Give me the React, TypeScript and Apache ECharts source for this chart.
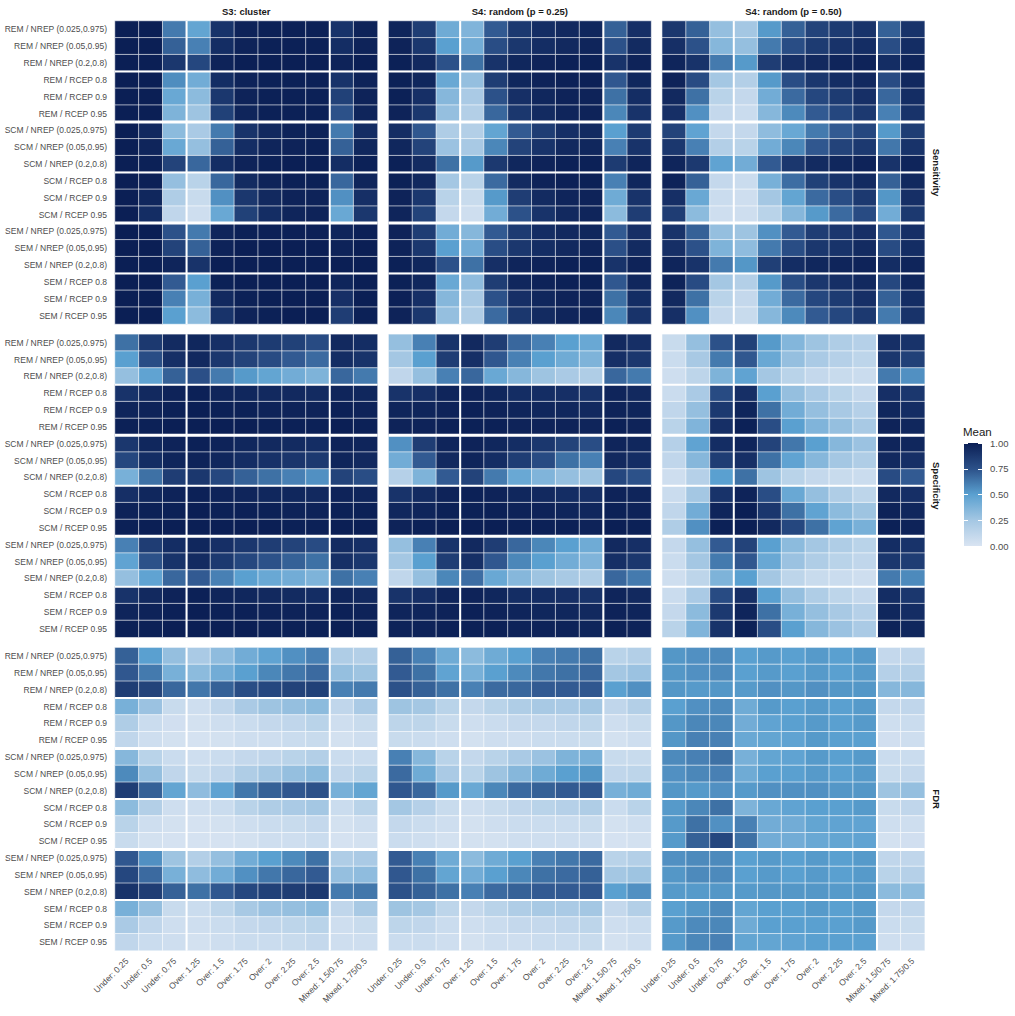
import React, { useEffect, useRef } from 'react';
import * as echarts from 'echarts';

const rowLabels = [
  'REM / NREP (0.025,0.975)', 'REM / NREP (0.05,0.95)', 'REM / NREP (0.2,0.8)',
  'REM / RCEP 0.8', 'REM / RCEP 0.9', 'REM / RCEP 0.95',
  'SCM / NREP (0.025,0.975)', 'SCM / NREP (0.05,0.95)', 'SCM / NREP (0.2,0.8)',
  'SCM / RCEP 0.8', 'SCM / RCEP 0.9', 'SCM / RCEP 0.95',
  'SEM / NREP (0.025,0.975)', 'SEM / NREP (0.05,0.95)', 'SEM / NREP (0.2,0.8)',
  'SEM / RCEP 0.8', 'SEM / RCEP 0.9', 'SEM / RCEP 0.95',
];
const colLabels = [
  'Under: 0.25', 'Under: 0.5', 'Under: 0.75', 'Over: 1.25', 'Over: 1.5', 'Over: 1.75',
  'Over: 2', 'Over: 2.25', 'Over: 2.5', 'Mixed: 1.5/0.75', 'Mixed: 1.75/0.5',
];
const panelTitles = ['S3: cluster', 'S4: random (p = 0.25)', 'S4: random (p = 0.50)'];
const metricLabels = ['Sensitivity', 'Specificity', 'FDR'];
const legendTicks = [0, 0.25, 0.5, 0.75, 1];
const colourStops = ['#d9e4f2', '#a4c7e3', '#5aa0d0', '#2c5189', '#0b1f55'];
// boundaries: [orientation (0 = vertical, 1 = horizontal), index after which the line sits, width]
const separators = [[0, 2, 2], [0, 8, 2], [1, 2, 2], [1, 5, 3], [1, 8, 2], [1, 11, 3], [1, 14, 2]];

const sensS3 = [
  [1, 1, 0.62, 0.47, 0.9, 0.98, 0.99, 0.99, 0.99, 0.9, 0.98],
  [1, 1, 0.7, 0.6, 0.93, 0.98, 0.99, 0.99, 0.99, 0.93, 0.98],
  [1, 1, 0.88, 0.8, 0.98, 1, 1, 1, 1, 0.98, 1],
  [1, 1, 0.56, 0.42, 0.93, 0.98, 0.99, 0.99, 0.99, 0.9, 0.98],
  [1, 1, 0.45, 0.33, 0.88, 0.98, 0.99, 0.99, 0.99, 0.83, 0.98],
  [1, 1, 0.38, 0.27, 0.83, 0.97, 0.99, 0.99, 0.99, 0.75, 0.97],
  [1, 0.95, 0.33, 0.22, 0.62, 0.9, 0.95, 0.98, 0.98, 0.62, 0.93],
  [1, 0.97, 0.45, 0.3, 0.7, 0.93, 0.97, 0.98, 0.99, 0.7, 0.96],
  [1, 0.99, 0.82, 0.68, 0.93, 0.98, 0.99, 1, 1, 0.93, 0.99],
  [1, 0.99, 0.3, 0.15, 0.68, 0.94, 0.98, 0.99, 0.99, 0.68, 0.97],
  [1, 0.96, 0.2, 0.08, 0.55, 0.88, 0.95, 0.98, 0.98, 0.55, 0.92],
  [1, 0.93, 0.12, 0.05, 0.45, 0.83, 0.93, 0.97, 0.98, 0.45, 0.88],
  [1, 1, 0.75, 0.62, 0.97, 0.99, 0.99, 0.99, 0.99, 0.97, 0.99],
  [1, 1, 0.82, 0.7, 0.98, 1, 1, 1, 1, 0.98, 1],
  [1, 1, 0.97, 0.9, 1, 1, 1, 1, 1, 1, 1],
  [1, 1, 0.72, 0.5, 0.99, 1, 1, 1, 1, 0.97, 1],
  [1, 1, 0.6, 0.4, 0.95, 0.99, 1, 1, 1, 0.92, 1],
  [1, 1, 0.5, 0.33, 0.9, 0.98, 0.99, 1, 1, 0.85, 0.99],
];
const sensS4a = [
  [0.97, 0.85, 0.43, 0.37, 0.72, 0.87, 0.93, 0.95, 0.96, 0.7, 0.92],
  [0.98, 0.88, 0.5, 0.42, 0.77, 0.88, 0.93, 0.95, 0.97, 0.75, 0.94],
  [0.99, 0.95, 0.75, 0.65, 0.9, 0.96, 0.98, 0.99, 0.99, 0.9, 0.98],
  [0.99, 0.96, 0.45, 0.3, 0.85, 0.96, 0.98, 0.99, 0.99, 0.73, 0.96],
  [0.99, 0.92, 0.35, 0.22, 0.75, 0.92, 0.96, 0.98, 0.98, 0.65, 0.93],
  [0.98, 0.88, 0.3, 0.18, 0.68, 0.88, 0.94, 0.97, 0.98, 0.58, 0.9],
  [0.93, 0.73, 0.2, 0.18, 0.47, 0.72, 0.85, 0.92, 0.94, 0.5, 0.86],
  [0.96, 0.82, 0.28, 0.23, 0.58, 0.82, 0.9, 0.95, 0.96, 0.6, 0.9],
  [0.99, 0.94, 0.65, 0.52, 0.87, 0.96, 0.98, 0.99, 0.99, 0.86, 0.97],
  [0.99, 0.95, 0.25, 0.15, 0.67, 0.94, 0.98, 0.99, 0.99, 0.6, 0.96],
  [0.98, 0.88, 0.15, 0.08, 0.52, 0.85, 0.94, 0.97, 0.98, 0.43, 0.9],
  [0.97, 0.82, 0.1, 0.05, 0.42, 0.75, 0.9, 0.95, 0.97, 0.33, 0.85],
  [0.98, 0.85, 0.42, 0.35, 0.72, 0.86, 0.93, 0.95, 0.96, 0.72, 0.92],
  [0.98, 0.88, 0.5, 0.42, 0.77, 0.88, 0.93, 0.95, 0.97, 0.76, 0.94],
  [0.99, 0.96, 0.75, 0.65, 0.92, 0.97, 0.98, 0.99, 0.99, 0.9, 0.98],
  [0.99, 0.96, 0.45, 0.32, 0.85, 0.96, 0.98, 0.99, 0.99, 0.73, 0.96],
  [0.99, 0.92, 0.35, 0.23, 0.75, 0.92, 0.96, 0.98, 0.98, 0.65, 0.93],
  [0.98, 0.88, 0.3, 0.2, 0.67, 0.88, 0.94, 0.97, 0.98, 0.58, 0.9],
];
const sensS4b = [
  [0.88, 0.7, 0.3, 0.25, 0.52, 0.7, 0.82, 0.86, 0.9, 0.7, 0.9],
  [0.92, 0.75, 0.35, 0.3, 0.62, 0.77, 0.86, 0.9, 0.93, 0.77, 0.93],
  [0.97, 0.9, 0.62, 0.52, 0.85, 0.92, 0.95, 0.97, 0.98, 0.93, 0.97],
  [0.98, 0.78, 0.25, 0.18, 0.52, 0.77, 0.88, 0.93, 0.95, 0.78, 0.95],
  [0.95, 0.65, 0.15, 0.1, 0.42, 0.67, 0.8, 0.86, 0.92, 0.68, 0.93],
  [0.92, 0.55, 0.1, 0.07, 0.35, 0.57, 0.72, 0.8, 0.87, 0.6, 0.9],
  [0.82, 0.48, 0.1, 0.1, 0.32, 0.45, 0.62, 0.72, 0.8, 0.52, 0.85],
  [0.88, 0.6, 0.18, 0.15, 0.42, 0.58, 0.73, 0.82, 0.87, 0.63, 0.9],
  [0.97, 0.87, 0.48, 0.42, 0.72, 0.88, 0.94, 0.96, 0.98, 0.9, 0.97],
  [0.98, 0.7, 0.1, 0.07, 0.4, 0.66, 0.83, 0.9, 0.94, 0.7, 0.95],
  [0.92, 0.45, 0.07, 0.05, 0.25, 0.47, 0.67, 0.77, 0.87, 0.53, 0.92],
  [0.85, 0.33, 0.05, 0.05, 0.15, 0.35, 0.52, 0.67, 0.78, 0.42, 0.87],
  [0.9, 0.7, 0.3, 0.27, 0.55, 0.72, 0.85, 0.88, 0.92, 0.73, 0.92],
  [0.92, 0.75, 0.38, 0.32, 0.62, 0.77, 0.88, 0.9, 0.94, 0.78, 0.93],
  [0.97, 0.9, 0.62, 0.53, 0.84, 0.93, 0.96, 0.97, 0.98, 0.93, 0.97],
  [0.98, 0.78, 0.25, 0.18, 0.52, 0.77, 0.88, 0.92, 0.95, 0.8, 0.96],
  [0.95, 0.65, 0.15, 0.1, 0.42, 0.67, 0.8, 0.86, 0.92, 0.7, 0.93],
  [0.92, 0.55, 0.1, 0.08, 0.35, 0.57, 0.72, 0.8, 0.87, 0.62, 0.9],
];
const specS3 = [
  [0.65, 0.87, 0.94, 0.96, 0.92, 0.88, 0.86, 0.83, 0.78, 0.95, 0.93],
  [0.5, 0.77, 0.92, 0.95, 0.88, 0.82, 0.78, 0.72, 0.67, 0.93, 0.9],
  [0.3, 0.48, 0.7, 0.76, 0.62, 0.52, 0.47, 0.42, 0.38, 0.68, 0.62],
  [0.9, 0.95, 0.98, 0.99, 0.97, 0.96, 0.95, 0.95, 0.94, 0.97, 0.96],
  [0.97, 0.98, 0.99, 1, 0.99, 0.99, 0.98, 0.98, 0.98, 0.99, 0.98],
  [0.99, 0.99, 1, 1, 1, 1, 0.99, 0.99, 0.99, 1, 0.99],
  [0.88, 0.96, 0.98, 0.99, 0.98, 0.96, 0.95, 0.94, 0.93, 0.98, 0.97],
  [0.8, 0.93, 0.97, 0.98, 0.96, 0.93, 0.91, 0.89, 0.87, 0.97, 0.95],
  [0.4, 0.65, 0.85, 0.88, 0.8, 0.7, 0.65, 0.6, 0.55, 0.82, 0.77],
  [0.92, 0.96, 0.98, 0.99, 0.98, 0.97, 0.96, 0.96, 0.95, 0.98, 0.97],
  [0.98, 0.99, 0.99, 1, 0.99, 0.99, 0.99, 0.98, 0.98, 0.99, 0.99],
  [0.99, 1, 1, 1, 1, 1, 1, 0.99, 0.99, 1, 1],
  [0.6, 0.85, 0.93, 0.96, 0.92, 0.88, 0.85, 0.82, 0.78, 0.94, 0.92],
  [0.48, 0.75, 0.9, 0.94, 0.87, 0.8, 0.75, 0.7, 0.65, 0.92, 0.88],
  [0.3, 0.48, 0.68, 0.72, 0.6, 0.5, 0.45, 0.42, 0.38, 0.65, 0.6],
  [0.9, 0.95, 0.98, 0.99, 0.97, 0.96, 0.95, 0.94, 0.93, 0.97, 0.95],
  [0.97, 0.98, 0.99, 1, 0.99, 0.99, 0.98, 0.98, 0.98, 0.99, 0.98],
  [0.99, 0.99, 1, 1, 1, 1, 0.99, 0.99, 0.99, 1, 0.99],
];
const specS4a = [
  [0.3, 0.6, 0.9, 0.95, 0.85, 0.68, 0.6, 0.5, 0.45, 0.95, 0.92],
  [0.25, 0.5, 0.85, 0.92, 0.73, 0.6, 0.5, 0.43, 0.38, 0.92, 0.88],
  [0.12, 0.3, 0.6, 0.68, 0.45, 0.35, 0.27, 0.22, 0.2, 0.68, 0.62],
  [0.9, 0.92, 0.97, 0.98, 0.96, 0.93, 0.93, 0.92, 0.9, 0.97, 0.95],
  [0.97, 0.97, 0.98, 0.99, 0.98, 0.97, 0.96, 0.96, 0.95, 0.98, 0.97],
  [0.98, 0.98, 0.99, 0.99, 0.99, 0.98, 0.98, 0.98, 0.97, 0.99, 0.98],
  [0.55, 0.85, 0.97, 0.98, 0.96, 0.93, 0.88, 0.82, 0.77, 0.97, 0.96],
  [0.42, 0.72, 0.95, 0.97, 0.93, 0.85, 0.78, 0.65, 0.6, 0.95, 0.93],
  [0.17, 0.38, 0.72, 0.82, 0.62, 0.45, 0.37, 0.3, 0.27, 0.8, 0.75],
  [0.9, 0.94, 0.98, 0.99, 0.98, 0.96, 0.95, 0.93, 0.92, 0.98, 0.97],
  [0.96, 0.97, 0.99, 0.99, 0.99, 0.98, 0.98, 0.97, 0.96, 0.99, 0.98],
  [0.98, 0.99, 1, 1, 1, 0.99, 0.99, 0.99, 0.98, 1, 0.99],
  [0.3, 0.6, 0.9, 0.95, 0.85, 0.68, 0.58, 0.5, 0.43, 0.95, 0.92],
  [0.25, 0.5, 0.85, 0.92, 0.73, 0.58, 0.5, 0.42, 0.37, 0.92, 0.88],
  [0.12, 0.3, 0.58, 0.66, 0.45, 0.35, 0.27, 0.23, 0.2, 0.68, 0.62],
  [0.9, 0.92, 0.97, 0.98, 0.96, 0.93, 0.93, 0.92, 0.9, 0.97, 0.95],
  [0.97, 0.97, 0.98, 0.99, 0.98, 0.97, 0.96, 0.96, 0.95, 0.98, 0.97],
  [0.98, 0.98, 0.99, 0.99, 0.99, 0.98, 0.98, 0.98, 0.97, 0.99, 0.98],
];
const specS4b = [
  [0.08, 0.3, 0.75, 0.83, 0.52, 0.36, 0.27, 0.2, 0.17, 0.92, 0.9],
  [0.07, 0.23, 0.62, 0.73, 0.45, 0.3, 0.22, 0.17, 0.13, 0.88, 0.83],
  [0.05, 0.13, 0.38, 0.48, 0.25, 0.15, 0.1, 0.08, 0.07, 0.62, 0.55],
  [0.07, 0.22, 0.78, 0.92, 0.5, 0.3, 0.22, 0.15, 0.1, 0.92, 0.88],
  [0.12, 0.3, 0.87, 0.97, 0.65, 0.42, 0.3, 0.23, 0.17, 0.96, 0.93],
  [0.15, 0.37, 0.92, 0.99, 0.77, 0.5, 0.37, 0.3, 0.23, 0.98, 0.96],
  [0.17, 0.48, 0.93, 0.97, 0.82, 0.63, 0.5, 0.35, 0.28, 0.97, 0.96],
  [0.12, 0.35, 0.85, 0.92, 0.65, 0.48, 0.35, 0.25, 0.2, 0.95, 0.92],
  [0.05, 0.17, 0.5, 0.65, 0.27, 0.15, 0.1, 0.08, 0.07, 0.78, 0.72],
  [0.07, 0.25, 0.9, 0.98, 0.77, 0.45, 0.3, 0.2, 0.13, 0.95, 0.92],
  [0.12, 0.42, 0.97, 1, 0.88, 0.65, 0.48, 0.33, 0.27, 0.98, 0.96],
  [0.2, 0.55, 0.99, 1, 0.95, 0.8, 0.65, 0.48, 0.4, 0.99, 0.98],
  [0.1, 0.3, 0.72, 0.82, 0.5, 0.33, 0.25, 0.2, 0.15, 0.93, 0.9],
  [0.07, 0.25, 0.62, 0.73, 0.45, 0.28, 0.2, 0.15, 0.12, 0.88, 0.85],
  [0.05, 0.13, 0.38, 0.5, 0.25, 0.13, 0.08, 0.07, 0.05, 0.62, 0.57],
  [0.07, 0.22, 0.78, 0.92, 0.5, 0.3, 0.2, 0.13, 0.1, 0.93, 0.88],
  [0.1, 0.33, 0.87, 0.97, 0.65, 0.4, 0.3, 0.23, 0.17, 0.96, 0.93],
  [0.15, 0.37, 0.9, 0.99, 0.77, 0.5, 0.35, 0.28, 0.22, 0.98, 0.96],
];
const fdrS3 = [
  [0.7, 0.5, 0.3, 0.22, 0.32, 0.42, 0.48, 0.55, 0.6, 0.2, 0.18],
  [0.73, 0.62, 0.4, 0.33, 0.42, 0.5, 0.58, 0.63, 0.67, 0.3, 0.27],
  [0.85, 0.82, 0.68, 0.63, 0.7, 0.77, 0.8, 0.82, 0.83, 0.6, 0.62],
  [0.4, 0.28, 0.08, 0.05, 0.12, 0.22, 0.27, 0.3, 0.33, 0.12, 0.22],
  [0.2, 0.07, 0.04, 0.03, 0.05, 0.07, 0.1, 0.12, 0.15, 0.05, 0.08],
  [0.12, 0.05, 0.03, 0.02, 0.03, 0.05, 0.05, 0.07, 0.08, 0.03, 0.05],
  [0.35, 0.15, 0.07, 0.05, 0.07, 0.1, 0.12, 0.15, 0.18, 0.07, 0.07],
  [0.57, 0.3, 0.12, 0.08, 0.12, 0.2, 0.25, 0.3, 0.33, 0.12, 0.15],
  [0.85, 0.7, 0.47, 0.32, 0.48, 0.63, 0.7, 0.73, 0.75, 0.4, 0.47],
  [0.33, 0.18, 0.05, 0.05, 0.07, 0.15, 0.2, 0.22, 0.25, 0.07, 0.15],
  [0.15, 0.05, 0.03, 0.02, 0.03, 0.05, 0.07, 0.08, 0.1, 0.03, 0.05],
  [0.08, 0.03, 0.02, 0.02, 0.02, 0.03, 0.05, 0.05, 0.07, 0.02, 0.03],
  [0.73, 0.55, 0.27, 0.18, 0.3, 0.42, 0.5, 0.57, 0.65, 0.2, 0.22],
  [0.8, 0.67, 0.4, 0.32, 0.42, 0.55, 0.63, 0.68, 0.72, 0.3, 0.32],
  [0.9, 0.85, 0.7, 0.65, 0.73, 0.8, 0.83, 0.85, 0.87, 0.62, 0.63],
  [0.4, 0.3, 0.08, 0.07, 0.13, 0.23, 0.28, 0.3, 0.33, 0.12, 0.23],
  [0.22, 0.12, 0.05, 0.05, 0.07, 0.1, 0.12, 0.13, 0.15, 0.05, 0.08],
  [0.12, 0.07, 0.05, 0.03, 0.05, 0.07, 0.07, 0.08, 0.1, 0.05, 0.05],
];
const fdrS4a = [
  [0.7, 0.6, 0.43, 0.33, 0.43, 0.5, 0.6, 0.62, 0.65, 0.15, 0.18],
  [0.72, 0.65, 0.48, 0.4, 0.5, 0.57, 0.63, 0.65, 0.68, 0.25, 0.28],
  [0.75, 0.7, 0.65, 0.6, 0.67, 0.68, 0.72, 0.72, 0.73, 0.5, 0.55],
  [0.27, 0.25, 0.15, 0.1, 0.15, 0.2, 0.23, 0.22, 0.25, 0.12, 0.18],
  [0.13, 0.13, 0.08, 0.05, 0.07, 0.1, 0.1, 0.12, 0.13, 0.05, 0.08],
  [0.08, 0.07, 0.05, 0.03, 0.05, 0.05, 0.07, 0.07, 0.08, 0.03, 0.05],
  [0.6, 0.35, 0.15, 0.1, 0.15, 0.22, 0.28, 0.38, 0.4, 0.08, 0.08],
  [0.67, 0.43, 0.22, 0.15, 0.27, 0.35, 0.43, 0.5, 0.53, 0.12, 0.13],
  [0.73, 0.68, 0.52, 0.45, 0.58, 0.67, 0.7, 0.72, 0.73, 0.4, 0.43],
  [0.25, 0.17, 0.08, 0.05, 0.08, 0.12, 0.15, 0.17, 0.2, 0.07, 0.15],
  [0.1, 0.07, 0.05, 0.03, 0.05, 0.07, 0.07, 0.07, 0.08, 0.03, 0.05],
  [0.07, 0.05, 0.03, 0.03, 0.03, 0.05, 0.05, 0.05, 0.05, 0.02, 0.03],
  [0.72, 0.6, 0.43, 0.33, 0.43, 0.5, 0.6, 0.63, 0.67, 0.15, 0.18],
  [0.73, 0.65, 0.47, 0.42, 0.5, 0.58, 0.65, 0.67, 0.7, 0.25, 0.27],
  [0.75, 0.7, 0.65, 0.6, 0.67, 0.7, 0.72, 0.72, 0.73, 0.5, 0.55],
  [0.27, 0.25, 0.13, 0.1, 0.15, 0.2, 0.23, 0.22, 0.25, 0.1, 0.18],
  [0.13, 0.12, 0.07, 0.05, 0.07, 0.1, 0.1, 0.12, 0.13, 0.05, 0.07],
  [0.07, 0.07, 0.05, 0.03, 0.05, 0.05, 0.07, 0.07, 0.08, 0.03, 0.05],
];
const fdrS4b = [
  [0.53, 0.55, 0.57, 0.5, 0.52, 0.5, 0.52, 0.5, 0.52, 0.1, 0.12],
  [0.53, 0.55, 0.57, 0.5, 0.52, 0.5, 0.52, 0.5, 0.52, 0.17, 0.18],
  [0.53, 0.52, 0.53, 0.52, 0.55, 0.53, 0.55, 0.53, 0.53, 0.35, 0.35],
  [0.5, 0.55, 0.57, 0.43, 0.52, 0.5, 0.52, 0.5, 0.52, 0.1, 0.12],
  [0.53, 0.58, 0.58, 0.42, 0.48, 0.5, 0.52, 0.5, 0.52, 0.05, 0.07],
  [0.53, 0.6, 0.6, 0.45, 0.47, 0.48, 0.52, 0.5, 0.5, 0.04, 0.05],
  [0.57, 0.6, 0.65, 0.4, 0.47, 0.48, 0.52, 0.5, 0.52, 0.07, 0.07],
  [0.55, 0.58, 0.6, 0.43, 0.5, 0.5, 0.52, 0.5, 0.52, 0.08, 0.1],
  [0.53, 0.52, 0.55, 0.52, 0.55, 0.55, 0.55, 0.53, 0.53, 0.27, 0.3],
  [0.52, 0.58, 0.65, 0.38, 0.45, 0.48, 0.5, 0.5, 0.52, 0.08, 0.12],
  [0.52, 0.65, 0.55, 0.6, 0.42, 0.42, 0.47, 0.48, 0.48, 0.05, 0.05],
  [0.52, 0.7, 0.8, 0.65, 0.42, 0.42, 0.45, 0.47, 0.48, 0.03, 0.04],
  [0.55, 0.57, 0.57, 0.5, 0.52, 0.5, 0.52, 0.5, 0.52, 0.12, 0.12],
  [0.53, 0.57, 0.57, 0.5, 0.52, 0.5, 0.52, 0.5, 0.52, 0.15, 0.17],
  [0.52, 0.52, 0.53, 0.52, 0.53, 0.53, 0.53, 0.52, 0.53, 0.33, 0.33],
  [0.5, 0.53, 0.57, 0.47, 0.5, 0.5, 0.52, 0.5, 0.52, 0.1, 0.12],
  [0.52, 0.57, 0.58, 0.43, 0.5, 0.5, 0.5, 0.5, 0.52, 0.07, 0.08],
  [0.52, 0.58, 0.6, 0.47, 0.47, 0.48, 0.5, 0.5, 0.5, 0.05, 0.05],
];

const panelData = [
  [sensS3, sensS4a, sensS4b],
  [specS3, specS4a, specS4b],
  [fdrS3, fdrS4a, fdrS4b],
];

const FONT = '"Liberation Sans", Arial, Helvetica, sans-serif';
const LEFT0 = 115;
const DX = 273.6;
const GW = 262.5;
const TOP0 = 21;
const DY = 313.3;
const GH = 303;

export default function App() {
  const ref = useRef<HTMLDivElement>(null);

  useEffect(() => {
    if (!ref.current) return;
    const chart = echarts.init(ref.current, undefined, { renderer: 'svg' });

    const grids: any[] = [];
    const xAxes: any[] = [];
    const yAxes: any[] = [];
    const series: any[] = [];
    const heatIdx: number[] = [];
    const graphics: any[] = [];

    for (let r = 0; r < 3; r++) {
      for (let c = 0; c < 3; c++) {
        const i = r * 3 + c;
        grids.push({ left: LEFT0 + c * DX, top: TOP0 + r * DY, width: GW, height: GH, containLabel: false });
        xAxes.push({
          type: 'category', gridIndex: i, data: colLabels,
          axisLine: { show: false }, axisTick: { show: false }, splitLine: { show: false },
          axisLabel: {
            show: r === 2, interval: 0, rotate: 45, fontSize: 8.6, color: '#4d4d4d',
            fontFamily: FONT, margin: 9, padding: [6, 0, 0, 0],
          },
        });
        yAxes.push({
          type: 'category', gridIndex: i, data: rowLabels, inverse: true,
          axisLine: { show: false }, axisTick: { show: false }, splitLine: { show: false },
          axisLabel: { show: c === 0, interval: 0, fontSize: 8.5, color: '#4d4d4d', fontFamily: FONT, margin: 8 },
        });
        const mat = panelData[r][c];
        const data: number[][] = [];
        mat.forEach((row, yi) => row.forEach((v, xi) => data.push([xi, yi, v])));
        heatIdx.push(series.length);
        series.push({
          type: 'heatmap', xAxisIndex: i, yAxisIndex: i, data,
          itemStyle: { borderColor: 'rgba(255,255,255,0.6)', borderWidth: 1 },
          emphasis: { disabled: true }, silent: true,
        });
        series.push({
          type: 'custom', xAxisIndex: i, yAxisIndex: i, data: separators, z: 10, silent: true,
          clip: false,
          renderItem: (params: any, api: any) => {
            const o = api.value(0), b = api.value(1), w = api.value(2);
            const cs = params.coordSys;
            if (o === 0) {
              const x = (api.coord([b, 0])[0] + api.coord([b + 1, 0])[0]) / 2;
              return { type: 'line', shape: { x1: x, y1: cs.y, x2: x, y2: cs.y + cs.height }, style: { stroke: '#ffffff', lineWidth: w } };
            }
            const y = (api.coord([0, b])[1] + api.coord([0, b + 1])[1]) / 2;
            return { type: 'line', shape: { x1: cs.x, y1: y, x2: cs.x + cs.width, y2: y }, style: { stroke: '#ffffff', lineWidth: w } };
          },
        });
      }
    }

    // legend colour bar grid
    const li = 9;
    grids.push({ left: 964, top: 443, width: 18, height: 103 });
    xAxes.push({ type: 'category', gridIndex: li, data: ['Mean'], show: false });
    yAxes.push({
      type: 'value', gridIndex: li, min: 0, max: 1, interval: 0.25, position: 'right', z: 10,
      axisLine: { show: false }, splitLine: { show: false },
      axisTick: { show: true, inside: true, length: 4, lineStyle: { color: '#ffffff', width: 1 } },
      axisLabel: { fontSize: 9.5, color: '#4d4d4d', fontFamily: FONT, margin: 8, formatter: (v: number) => v.toFixed(2) },
    });
    yAxes.push({
      type: 'value', gridIndex: li, min: 0, max: 1, interval: 0.25, position: 'left', z: 10,
      axisLine: { show: false }, splitLine: { show: false }, axisLabel: { show: false },
      axisTick: { show: true, inside: true, length: 4, lineStyle: { color: '#ffffff', width: 1 } },
    });
    series.push({
      type: 'custom', xAxisIndex: li, yAxisIndex: li, data: [[0, 0]], silent: true, z: 2,
      renderItem: (params: any, api: any) => {
        const cs = params.coordSys;
        const top = api.coord([0, legendTicks[legendTicks.length - 1]])[1];
        const bottom = api.coord([0, legendTicks[0]])[1];
        const stops = colourStops.map((col, k) => ({ offset: k / (colourStops.length - 1), color: col }));
        return {
          type: 'rect',
          shape: { x: cs.x, y: top, width: cs.width, height: bottom - top },
          style: { fill: new echarts.graphic.LinearGradient(0, 1, 0, 0, stops) },
        };
      },
    });

    panelTitles.forEach((t, c) => {
      graphics.push({
        type: 'text', x: LEFT0 + c * DX + GW / 2, y: 11,
        style: { text: t, fontSize: 9.5, fontWeight: 'bold', fill: '#1a1a1a', fontFamily: FONT, textAlign: 'center', textVerticalAlign: 'middle' },
      });
    });
    metricLabels.forEach((t, r) => {
      graphics.push({
        type: 'text', x: 936, y: TOP0 + r * DY + GH / 2, rotation: -Math.PI / 2,
        style: { text: t, fontSize: 9.5, fontWeight: 'bold', fill: '#1a1a1a', fontFamily: FONT, textAlign: 'center', textVerticalAlign: 'middle' },
      });
    });
    graphics.push({
      type: 'text', x: 963, y: 432,
      style: { text: 'Mean', fontSize: 11.5, fill: '#1a1a1a', fontFamily: FONT, textAlign: 'left', textVerticalAlign: 'middle' },
    });

    chart.setOption({
      animation: false,
      backgroundColor: '#ffffff',
      grid: grids,
      xAxis: xAxes,
      yAxis: yAxes,
      visualMap: {
        show: false, type: 'continuous', min: 0, max: 1, seriesIndex: heatIdx,
        inRange: { color: colourStops },
      },
      graphic: graphics,
      series,
    });

    return () => chart.dispose();
  }, []);

  return <div ref={ref} style={{ position: 'absolute', left: 0, top: 0, width: 1015, height: 1016 }} />;
}
